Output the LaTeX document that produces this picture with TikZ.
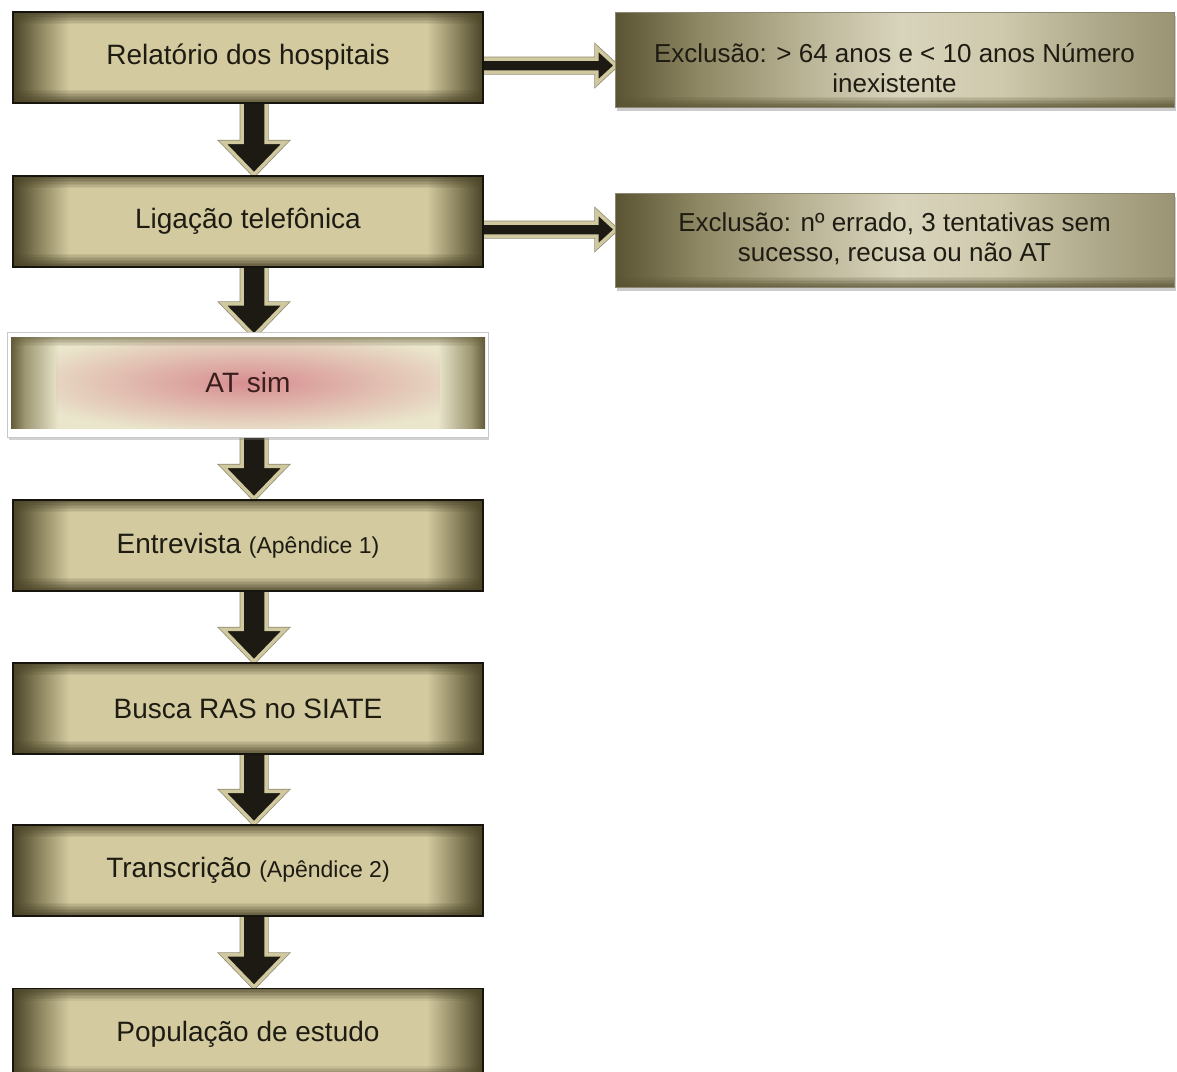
\documentclass[tikz,border=0pt]{standalone}
\usepackage{fontspec}
\setmainfont{Liberation Sans}
\usetikzlibrary{calc,fadings,shadows,backgrounds}

\definecolor{bxdk}{HTML}{4A4428}
\definecolor{bxmd}{HTML}{857D58}
\definecolor{bxlt}{HTML}{D3CAA0}
\definecolor{bxtx}{HTML}{1E1C12}
\definecolor{rcA}{HTML}{5A5434}
\definecolor{rcB}{HTML}{8E8864}
\definecolor{rcC}{HTML}{B8B294}
\definecolor{rcD}{HTML}{D8D4BC}
\definecolor{rcE}{HTML}{CFC9AD}
\definecolor{rcF}{HTML}{AEA88A}
\definecolor{rcG}{HTML}{9A9474}
\definecolor{arrdk}{HTML}{1C1A12}
\definecolor{arrlt}{HTML}{D0C89F}
\definecolor{arrgr}{HTML}{8E8970}
\definecolor{atdk}{HTML}{615B38}
\definecolor{atmd}{HTML}{9E9874}
\definecolor{atlt}{HTML}{EAE6CC}
\definecolor{atpk}{HTML}{D88E91}
\definecolor{attx}{HTML}{3A1E1C}

\tikzfading[name=softblob, inner color=transparent!0, outer color=transparent!100]

\pgfdeclarehorizontalshading{leftbox}{100bp}{color(0bp)=(bxdk); color(25bp)=(bxdk); color(27.5bp)=(bxmd); color(31bp)=(bxlt); color(69bp)=(bxlt); color(72.5bp)=(bxmd); color(75bp)=(bxdk); color(100bp)=(bxdk)}
\pgfdeclarehorizontalshading{rightbox}{100bp}{color(0bp)=(rcA); color(25bp)=(rcA); color(32.6bp)=(rcB); color(41.5bp)=(rcC); color(50.5bp)=(rcD); color(59.4bp)=(rcE); color(68.4bp)=(rcF); color(75bp)=(rcG); color(100bp)=(rcG)}
\pgfdeclarehorizontalshading{atshade}{100bp}{color(0bp)=(atdk); color(25bp)=(atdk); color(26.5bp)=(atmd); color(30bp)=(atlt); color(70bp)=(atlt); color(73.5bp)=(atmd); color(75bp)=(atdk); color(100bp)=(atdk)}

% manual soft bands: #1 colour, #2 max opacity, #3 steps, #4 anchor side (north/south), #5 direction (-1 down / 1 up)
\newcommand{\softband}[5]{%
  \foreach \i [evaluate=\i as \ya using #5*1.5*\i,
               evaluate=\i as \yb using #5*1.5*(\i+1),
               evaluate=\i as \op using #2*(1-\i/#3)] in {0,...,#3} {
    \fill[#1, opacity=\op] ([yshift=\ya pt]path picture bounding box.#4 west)
      rectangle ([yshift=\yb pt]path picture bounding box.#4 east);
  }}

\tikzset{
  mainbox/.style={rectangle, draw=black!70!bxdk, line width=1.3pt,
    minimum width=470pt, minimum height=91pt, inner sep=0pt,
    shade, shading=leftbox, text=bxtx, font=\fontsize{28}{32}\selectfont,
    path picture={\softband{bxdk}{0.75}{8}{north}{-1}\softband{bxdk}{0.85}{9}{south}{1}}},
  atbox/.style={rectangle, minimum width=474pt, minimum height=91pt, inner sep=0pt,
    shade, shading=atshade, text=attx, font=\fontsize{28}{32}\selectfont,
    path picture={
      \fill[atpk, path fading=softblob]
        ([xshift=45pt,yshift=6pt]path picture bounding box.north west)
        rectangle ([xshift=-45pt,yshift=-6pt]path picture bounding box.south east);
      \softband{atdk}{0.55}{6}{north}{-1}
    }},
  rbox/.style={rectangle, minimum width=559pt, inner sep=0pt,
    shade, shading=rightbox, draw=rcA!70, line width=.5pt,
    text=bxtx, font=\fontsize{26}{30}\selectfont,
    drop shadow={shadow xshift=2pt, shadow yshift=-4pt, opacity=.4},
    path picture={\softband{rcA}{0.8}{7}{south}{1}}},
  blockarrow/.style={fill=arrdk, draw=arrlt, line width=3.5pt, line join=miter,
    preaction={draw=arrgr, line width=5pt, line join=miter}},
  atframe/.style={fill=white, draw=black!22, line width=.8pt,
    drop shadow={shadow xshift=1pt, shadow yshift=-2.5pt, opacity=.35}}
}

\newcommand{\vflow}[3]{%
  \path[blockarrow] let \p1=(#1.south), \p2=(#2.north) in
    (\x1+18pt, \y1+#3) -- (\x1+18pt, \y2+33pt) -- (\x1+37pt, \y2+33pt)
    -- (\x1+6pt, \y2+1pt) -- (\x1-25pt, \y2+33pt) -- (\x1-6pt, \y2+33pt)
    -- (\x1-6pt, \y1+#3) -- cycle;}

\newcommand{\hflow}[2]{%
  \path[blockarrow] let \p1=(#1.east), \p2=(#2.west) in
    (\x1-4pt, \y1-1.5pt) -- (\x2-18pt, \y1-1.5pt) -- (\x2-18pt, \y1+9.5pt)
    -- (\x2+1pt, \y1-8pt) -- (\x2-18pt, \y1-25.5pt) -- (\x2-18pt, \y1-14.5pt)
    -- (\x1-4pt, \y1-14.5pt) -- cycle;}

\begin{document}
\begin{tikzpicture}[x=1pt, y=-1pt]
\useasboundingbox (0,0) rectangle (1177,1071);

\node[mainbox] (b1) at (248,57.5) {Relatório dos hospitais};
\node[mainbox] (b2) at (248,221.5) {Ligação telefônica};
\node[atbox] (atsim) at (248,382.5) {AT sim};
\node[mainbox] (b4) at (248,545.5) {Entrevista {\fontsize{23}{28}\selectfont (Apêndice 1)}};
\node[mainbox] (b5) at (248,708.5) {Busca RAS no SIATE};
\node[mainbox] (b6) at (248,870.5) {Transcrição {\fontsize{23}{28}\selectfont (Apêndice 2)}};
\node[mainbox] (b7) at (248,1034) {População de estudo};

\node[rbox, minimum height=95pt] (r1) at (894.5,59.5)
  {\raisebox{-18pt}[0pt][0pt]{\begin{tabular}{@{}c@{}}Exclusão: > 64 anos e < 10 anos Número\\inexistente\end{tabular}}};
\node[rbox, minimum height=94pt] (r2) at (894.5,240)
  {\begin{tabular}{@{}c@{}}Exclusão: nº errado, 3 tentativas sem\\sucesso, recusa ou não AT\end{tabular}};

\begin{scope}[on background layer]
  \fill[white] (0,0) rectangle (1177,1071);
  \vflow{b1}{b2}{4pt}
  \vflow{b2}{atsim}{4pt}
  \vflow{atsim}{b4}{0pt}
  \vflow{b4}{b5}{4pt}
  \vflow{b5}{b6}{4pt}
  \vflow{b6}{b7}{4pt}
  \hflow{b1}{r1}
  \hflow{b2}{r2}
  \path[atframe] ([xshift=-3pt,yshift=4pt]atsim.north west)
    rectangle ([xshift=3pt,yshift=-9pt]atsim.south east);
\end{scope}
\end{tikzpicture}
\end{document}
